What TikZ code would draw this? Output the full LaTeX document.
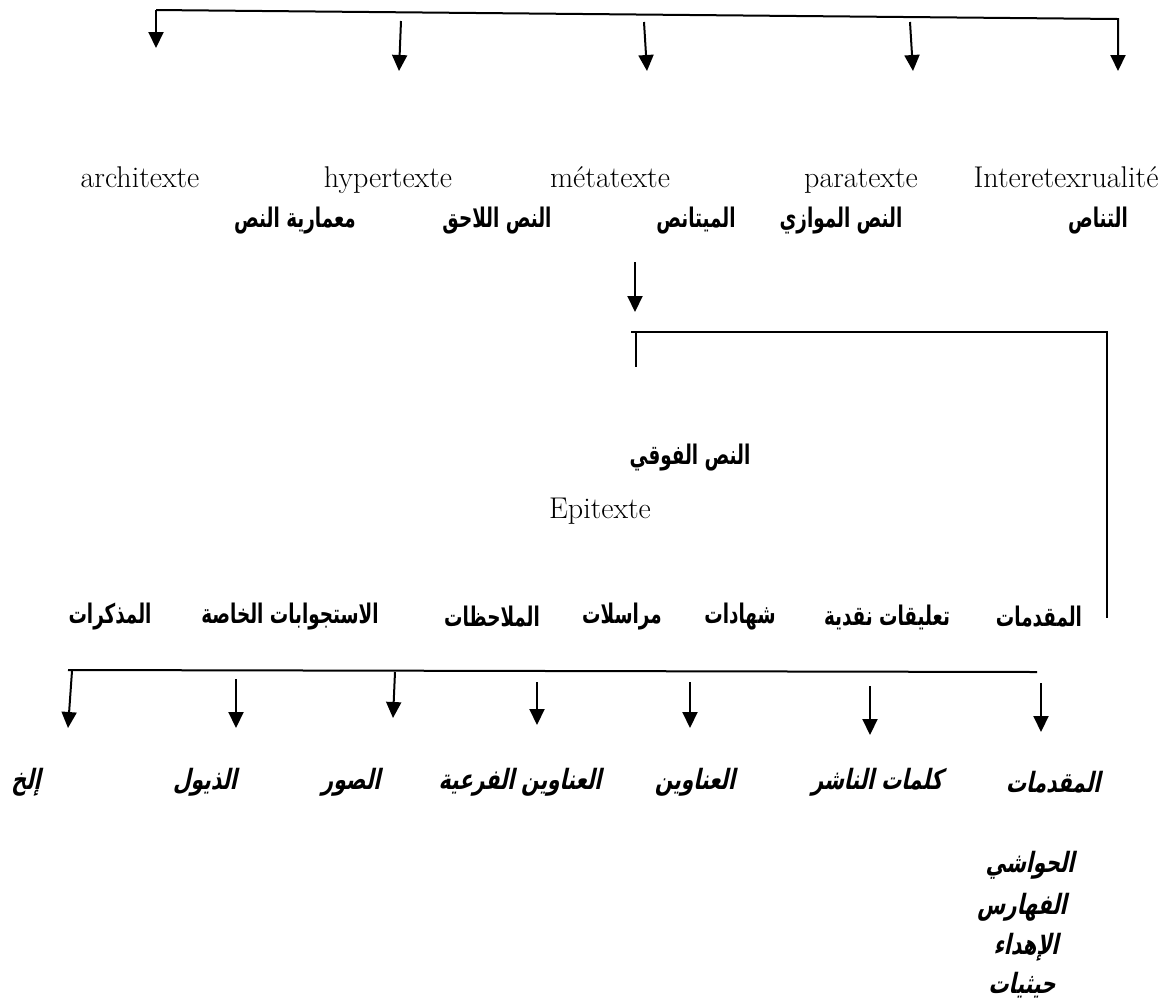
\documentclass[tikz,border=0pt]{standalone}
\usepackage{fontspec}
\newfontfamily\arabicfont[Script=Arabic,FakeStretch=0.68]{DejaVu Sans}
\newfontfamily\arabicit[Script=Arabic,FakeStretch=0.72,BoldFeatures={FakeSlant=0.22}]{DejaVu Sans}
\TeXXeTstate=1
\usetikzlibrary{arrows.meta,positioning}

\begin{document}
\begin{tikzpicture}[
    x=0.5pt, y=-0.5pt,
    bar/.style={line width=1pt},
    arr/.style={line width=1pt, -{Triangle[width=7.5pt,length=8pt]}},
    latin/.style={font=\fontsize{15}{18}\selectfont, anchor=base},
    kufi/.style={font=\arabicfont\bfseries\fontsize{13.5}{15}\selectfont},
    slanted/.style={font=\arabicit\bfseries\fontsize{14}{16}\selectfont}
]
\useasboundingbox (0,0) rectangle (1173,1003);

% Top bar
\coordinate (tbL) at (156,10);
\coordinate (tbR) at (1118,19);
\coordinate (tip1) at (156,48);
\coordinate (top2) at (401,21);
\coordinate (tip2) at (399,71);
\coordinate (top3) at (644,22);
\coordinate (tip3) at (647,71);
\coordinate (top4) at (910,22);
\coordinate (tip4) at (913,71);
\coordinate (tip5) at (1118,71);
\draw[arr] (tbL) -- (tbR) -- (tip5);
\draw[arr] (tbL) -- (tip1);
\draw[arr] (top2) -- (tip2);
\draw[arr] (top3) -- (tip3);
\draw[arr] (top4) -- (tip4);

% Five kinds
\node[latin] (archi) at (140,187) {architexte};
\node[latin] (hyper) at (388,187) {hypertexte};
\node[latin] (meta) at (610,187) {métatexte};
\node[latin] (para) at (861,187) {paratexte};
\node[latin] (inter) at (1066,187) {Interetexrualité};

\node[kufi] (tanas) at (1098,221) {\beginR التناص\endR};
\node[kufi] (muwazi) at (841,221) {\beginR النص الموازي\endR};
\node[kufi] (mitanas) at (696,221) {\beginR الميتانص\endR};
\node[kufi] (lahiq) at (497,221) {\beginR النص اللاحق\endR};
\node[kufi] (miamaria) at (295,221) {\beginR معمارية النص\endR};

% Down to epitext
\coordinate (mtop) at (635,262);
\coordinate (mtip) at (635,312);
\draw[arr] (mtop) -- (mtip);

\coordinate (bkL) at (631,332);
\coordinate (bkR) at (1107,332);
\coordinate (bkB) at (1107,618);
\coordinate (bkS) at (636,332);
\coordinate (bkE) at (636,367);
\draw[bar] (bkL) -- (bkR) -- (bkB);
\draw[bar] (bkS) -- (bkE);

\node[kufi] (fawqi) at (690,458) {\beginR النص الفوقي\endR};
\node[latin] (epi) at (600,518) {Epitexte};

% Epitext items
\node[kufi] (muqaddimat) at (1039,617) {\beginR المقدمات\endR};
\node[kufi] (taliqat) at (887,617) {\beginR تعليقات نقدية\endR};
\node[kufi] (shahadat) at (740,617) {\beginR شهادات\endR};
\node[kufi] (murasalat) at (622,617) {\beginR مراسلات\endR};
\node[kufi] (mulahazat) at (492,617) {\beginR الملاحظات\endR};
\node[kufi] (istijwabat) at (290,617) {\beginR الاستجوابات الخاصة\endR};
\node[kufi] (mudhakkirat) at (110,617) {\beginR المذكرات\endR};

% Lower bar
\coordinate (lbL) at (68,670);
\coordinate (lbR) at (1037,672);
\draw[bar] (lbL) -- (lbR);
\coordinate (ltop1) at (72,671);
\coordinate (ltip1) at (68,728);
\coordinate (ltop2) at (236,679);
\coordinate (ltip2) at (236,728);
\coordinate (ltop3) at (395,672);
\coordinate (ltip3) at (393,718);
\coordinate (ltop4) at (537,682);
\coordinate (ltip4) at (537,725);
\coordinate (ltop5) at (690,682);
\coordinate (ltip5) at (690,728);
\coordinate (ltop6) at (870,686);
\coordinate (ltip6) at (870,735);
\coordinate (ltop7) at (1041,683);
\coordinate (ltip7) at (1041,732);
\draw[arr] (ltop1) -- (ltip1);
\draw[arr] (ltop2) -- (ltip2);
\draw[arr] (ltop3) -- (ltip3);
\draw[arr] (ltop4) -- (ltip4);
\draw[arr] (ltop5) -- (ltip5);
\draw[arr] (ltop6) -- (ltip6);
\draw[arr] (ltop7) -- (ltip7);

% Peritext items
\node[slanted] (muqaddimat2) at (1053,782) {\beginR المقدمات\endR};
\node[slanted] (kalimat) at (877,782) {\beginR كلمات الناشر\endR};
\node[slanted] (anawin) at (695,782) {\beginR العناوين\endR};
\node[slanted] (faria) at (520,782) {\beginR العناوين الفرعية\endR};
\node[slanted] (suwar) at (351,782) {\beginR الصور\endR};
\node[slanted] (dhuyul) at (205,782) {\beginR الذيول\endR};
\node[slanted] (ilakh) at (26,782) {\beginR إلخ\endR};

\node[slanted] (hawashi) at (1030,865) {\beginR الحواشي\endR};
\node[slanted] (fahares) at (1022,907) {\beginR الفهارس\endR};
\node[slanted] (ihdaa) at (1026,947) {\beginR الإهداء\endR};
\node[slanted] (haythiyat) at (1022,985) {\beginR حيثيات\endR};

\end{tikzpicture}
\end{document}
